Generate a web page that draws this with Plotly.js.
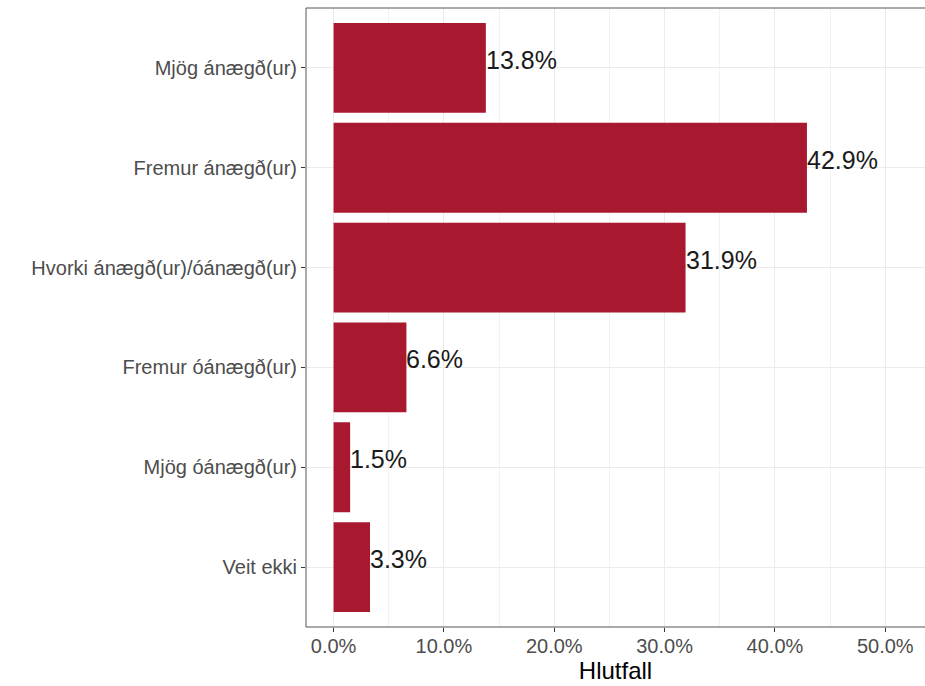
<!DOCTYPE html>
<html>
<head>
<meta charset="utf-8">
<script src="https://cdn.plot.ly/plotly-3.0.1.min.js"></script>
<style>html,body{margin:0;padding:0;background:#fff;}#chart{width:925px;height:686px;}</style>
</head>
<body>
<div id="chart"></div>
<script>
const categories = ["Mjög ánægð(ur)", "Fremur ánægð(ur)", "Hvorki ánægð(ur)/óánægð(ur)", "Fremur óánægð(ur)", "Mjög óánægð(ur)", "Veit ekki"];
const values = [13.8, 42.9, 31.9, 6.6, 1.5, 3.3];
const xTickVals = [0, 10, 20, 30, 40, 50];
const xTickText = ["0.0%", "10.0%", "20.0%", "30.0%", "40.0%", "50.0%"];
const labels = values.map(v => v.toFixed(1) + "%");

const FONT = "Liberation Sans, Arial, sans-serif";

const bars = {
  type: "bar",
  orientation: "h",
  x: values,
  y: categories,
  width: 0.9,
  marker: {color: "#A8192F", line: {width: 0}},
  hoverinfo: "skip"
};

const valueAnnotations = values.map((v, i) => ({
  x: v,
  y: categories[i],
  xref: "x",
  yref: "y",
  text: labels[i],
  showarrow: false,
  xanchor: "left",
  yanchor: "middle",
  xshift: -2,
  yshift: 8,
  font: {family: FONT, size: 25, color: "#1a1a1a"}
}));

const layout = {
  width: 925,
  height: 686,
  margin: {l: 306, r: 0, t: 8, b: 59},
  paper_bgcolor: "#ffffff",
  plot_bgcolor: "#ffffff",
  showlegend: false,
  xaxis: {
    range: [-2.5, 53.6],
    tickvals: xTickVals,
    ticktext: xTickText,
    ticks: "outside",
    ticklen: 4,
    tickcolor: "#333333",
    ticklabelstandoff: -3,
    tickfont: {family: FONT, size: 20, color: "#4d4d4d"},
    showgrid: true,
    gridcolor: "#ebebeb",
    gridwidth: 1,
    minor: {dtick: 10, tick0: 5, showgrid: true, gridcolor: "#f2f2f2", gridwidth: 1, ticks: ""},
    zeroline: false,
    showline: false,
    title: {text: "Hlutfall", font: {family: FONT, size: 24, color: "#000000"}, standoff: 0}
  },
  yaxis: {
    type: "category",
    categoryorder: "array",
    categoryarray: categories,
    range: [5.6, -0.6],
    ticks: "outside",
    ticklen: 4,
    tickcolor: "#333333",
    tickfont: {family: FONT, size: 20, color: "#4d4d4d"},
    showgrid: true,
    gridcolor: "#ebebeb",
    gridwidth: 1,
    zeroline: false,
    showline: false
  },
  annotations: valueAnnotations,
  shapes: [{
    type: "rect", xref: "paper", yref: "paper", x0: 0, x1: 1.01, y0: 0, y1: 1,
    line: {color: "#555555", width: 1}, fillcolor: "rgba(0,0,0,0)", layer: "above"
  }],
  font: {family: FONT}
};

Plotly.newPlot("chart", [bars], layout, {displayModeBar: false, staticPlot: true});
</script>
</body>
</html>
